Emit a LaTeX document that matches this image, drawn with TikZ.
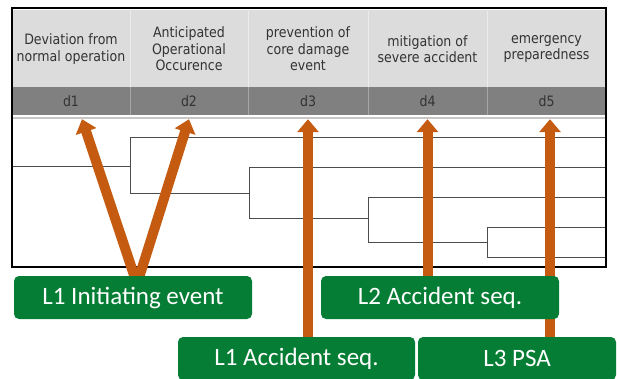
\documentclass[tikz,border=0pt]{standalone}
\usepackage{fontspec}
\setmainfont{DejaVu Sans}
\newfontfamily\hdrfont[FakeStretch=0.88]{DejaVu Sans}
\newfontfamily\boxfont{Carlito}
\usetikzlibrary{arrows.meta}
\definecolor{hgray}{HTML}{DCDCDC}
\definecolor{dgray}{HTML}{808080}
\definecolor{txtgray}{HTML}{333333}
\definecolor{arrorange}{HTML}{C55A11}
\definecolor{boxgreen}{HTML}{067D34}
\pgfdeclarelayer{front}
\pgfsetlayers{main,front}

\begin{document}
\begin{tikzpicture}[x=1pt, y=-1pt]
	\tikzset{
	    hcell/.style= {fill=hgray, minimum width=120pt, minimum height=78pt, inner sep=0pt, align=center, text=txtgray, font=\hdrfont\fontsize{14.3}{16.5}\selectfont},
	    dcell/.style= {fill=dgray, minimum width=120pt, minimum height=28pt, inner sep=0pt, text=txtgray, font=\hdrfont\fontsize{14.3}{16.5}\selectfont},
	    tree/.style= {draw=black!70, line width=1pt},
	    arr/.style= {draw=arrorange, line width=10pt, -{Triangle[width=21pt,length=13pt]}},
	    gbox/.style= {fill=boxgreen, rounded corners=5pt, minimum height=43pt, inner sep=0pt, text=white, font=\boxfont\fontsize{25}{25}\selectfont},
	}
	\useasboundingbox (0,0) rectangle (617,378);
	
	% header row
	\node[hcell] (h1) at (71, 49) {Deviation from\\normal operation};
	\node[hcell] (h2) at (189, 49) {Anticipated\\Operational\\Occurence};
	\node[hcell] (h3) at (308, 49) {prevention of\\core damage\\event};
	\node[hcell] (h4) at (427.5, 49) {mitigation of\\severe accident};
	\node[hcell] (h5) at (546.5, 49) {emergency\\preparedness};
	
	\node[dcell] (d1) at (71, 101) {d1};
	\node[dcell] (d2) at (189, 101) {d2};
	\node[dcell] (d3) at (308, 101) {d3};
	\node[dcell] (d4) at (427.5, 101) {d4};
	\node[dcell] (d5) at (546.5, 101) {d5};
	
	\draw[black!22, line width=2pt] (13,118) -- (605,118);
	\foreach \x in {130,248,368,487} {
	    \draw[white!92!black] (\x,9) -- (\x,87);
	    \draw[black!35] (\x,87) -- (\x,115);
	}
	
	% event tree
	\draw[tree] (13,166) -- (130,166);
	\draw[tree] (606,137) -- (130,137) -- (130,193) -- (249,193);
	\draw[tree] (606,167) -- (249,167) -- (249,218) -- (368,218);
	\draw[tree] (606,197) -- (368,197) -- (368,242) -- (487,242);
	\draw[tree] (606,227) -- (487,227) -- (487,257) -- (606,257);
	
	\draw[black, line width=1.5pt] (12,8) rectangle (606,267);
	
	\begin{pgfonlayer}{front}
	\node[gbox, minimum width=238pt] (l1init) at (133, 297.5) {L1 Initiating event};
	\node[gbox, minimum width=238pt] (l2acc) at (440, 297.5) {L2 Accident seq.};
	\node[gbox, minimum width=237pt] (l1acc) at (296.5, 358.5) {L1 Accident seq.};
	\node[gbox, minimum width=198pt] (l3psa) at (517, 358.5) {L3 PSA};
	\end{pgfonlayer}
	
	\coordinate (vb) at (137, 284);
	\draw[arr] (vb) -- ([xshift=11pt, yshift=-4pt]d1.south);
	\draw[arr] (vb) -- ([yshift=-4pt]d2.south);
	\draw[arr] (l1acc.center -| d3.south) -- ([yshift=-4pt]d3.south);
	\draw[arr] (l2acc.center -| d4.south) -- ([yshift=-4pt]d4.south);
	\draw[arr] (l3psa.center -| 550,0) -- ([xshift=3.5pt, yshift=-4pt]d5.south);
\end{tikzpicture}
\end{document}
